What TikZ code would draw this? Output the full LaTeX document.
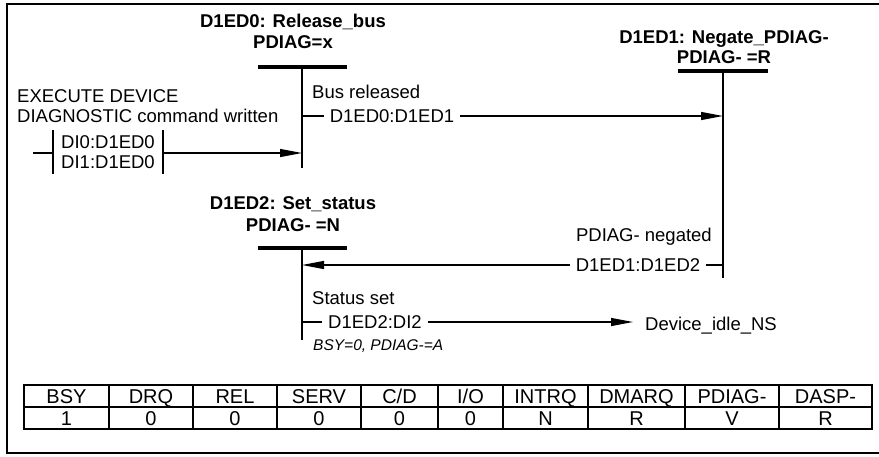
\documentclass[tikz,border=0pt]{standalone}
\usepackage{fontspec}
\setmainfont{Liberation Sans}
\usetikzlibrary{arrows.meta,positioning}
\tikzset{
  txt/.style={inner sep=0pt,font=\fontsize{18.5}{20}\selectfont},
  stitle/.style={inner sep=0pt,align=center,font=\fontsize{18.5}{21.5}\selectfont\bfseries},
  sbar/.style={fill=black,inner sep=0pt,outer sep=0pt,minimum width=89pt,minimum height=4pt},
  life/.style={line width=1.6pt},
  msg/.style={txt,inner xsep=6pt},
  ln/.style={line width=1.2pt},
  ar/.style={ln,-{Triangle[length=22pt,width=8pt]}},
  cell/.style={draw,line width=1.3pt,inner sep=0pt,minimum height=22pt,text height=14.3pt,text depth=0pt,font=\fontsize{20}{22}\selectfont},
  note/.style={inner sep=0pt,font=\fontsize{15.5}{17}\selectfont\itshape},
}
\begin{document}
\begin{tikzpicture}[x=1pt,y=-1pt]
    \useasboundingbox (0,0) rectangle (879,456);
    \draw[line width=2pt] (882,4) -- (7,4) -- (7,453) -- (882,453);
    \node[sbar] (bar0) at (302,67) {};
    \node[sbar,minimum width=90pt] (bar1) at (723,71) {};
    \node[sbar] (bar2) at (302,248) {};
    \node[stitle,above=16pt of bar0,xshift=-9pt] (st0) {D1ED0: Release\_bus\\PDIAG=x};
    \node[stitle,above=5.5pt of bar1,xshift=1pt,font=\fontsize{18.5}{20}\selectfont\bfseries] (st1) {D1ED1: Negate\_PDIAG-\\PDIAG- =R};
    \node[stitle,above=14.5pt of bar2,xshift=-9pt] (st2) {D1ED2: Set\_status\\PDIAG- =N};
    \coordinate (end0) at (302,168);\coordinate (end1) at (723,278);\coordinate (end2) at (302,340);
    \draw[life](bar0)--(end0);\draw[life](bar1)--(end1);\draw[life](bar2)--(end2);
    \node[txt,align=left,anchor=north west] (cmd) at (17,89.5) {EXECUTE DEVICE\\DIAGNOSTIC command written};
    \node[txt,align=left,inner xsep=8pt,minimum height=44pt] (dis) at (108,152) {DI0:D1ED0\\DI1:D1ED0};
    \draw[life] (dis.north west)--(dis.south west) (dis.north east)--(dis.south east);
    \coordinate (in0) at (33,153);\coordinate (v0b) at (302,153);
    \draw[ln](in0)--(in0 -| dis.west);\draw[ar](dis.east |- v0b)--(v0b);
    \node[txt,anchor=west] (bus) at (312,92) {Bus released};
    \node[msg] (m01) at (392,116) {D1ED0:D1ED1};
    \coordinate (v0a) at (302,116);\coordinate (v1a) at (723,116);
    \draw[ln](v0a)--(m01);\draw[ar](m01)--(v1a);
    \node[txt,anchor=east] (neg) at (712,237) {PDIAG- negated};
    \node[msg] (m12) at (638,265) {D1ED1:D1ED2};
    \coordinate (v1b) at (723,265);\coordinate (v2a) at (302,265);
    \draw[ln](v1b)--(m12);\draw[ar](m12)--(v2a);
    \node[txt,anchor=west] (sset) at (312,298) {Status set};
    \node[msg] (m2i) at (375,322) {D1ED2:DI2};
    \node[txt,anchor=west,inner xsep=12pt] (idle) at (633,326) {Device\_idle\_NS};
    \coordinate (v2b) at (302,322);
    \draw[ln](v2b)--(m2i);\draw[ar](m2i.east)--(m2i.east -| idle.west);
    \node[note,anchor=west] (bsy) at (313,346) {BSY=0, PDIAG-=A};
    \foreach \xa/\xb/\hd/\vl [count=\i] in {24/109/BSY/1,109/193/DRQ/0,193/277/REL/0,277/361/SERV/0,361/438/{C/D}/0,438/503/{I/O}/0,503/588/INTRQ/N,588/685/DMARQ/R,685/779/PDIAG-/V,779/872/DASP-/R}{
      \node[cell,minimum width=(\xb-\xa)*1pt] (hd\i) at ({(\xa+\xb)/2},396) {\hd};
      \node[cell,minimum width=(\xb-\xa)*1pt] (vl\i) at ({(\xa+\xb)/2},418) {\vl};
    }
\end{tikzpicture}
\end{document}
